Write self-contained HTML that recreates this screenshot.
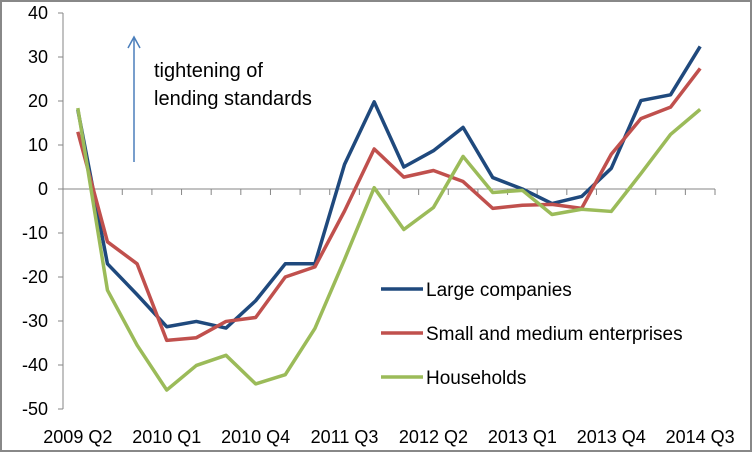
<!DOCTYPE html>
<html><head><meta charset="utf-8"><style>
body{margin:0;background:#fff;}
svg{display:block;font-family:"Liberation Sans",sans-serif;}
</style></head><body>
<svg id="chart" width="752" height="452" viewBox="0 0 752 452">
<rect x="1" y="1" width="750" height="450" fill="#fff" stroke="#888" stroke-width="2"/>
<g id="axes"></g><g id="series"></g>
<g>
<line x1="134" y1="162" x2="134" y2="38" stroke="#4a7ebb" stroke-width="1.5"/>
<polyline points="128,48 134,37 140,48" fill="none" stroke="#4a7ebb" stroke-width="1.5"/>
<text x="154" y="77" font-size="20" fill="#000">tightening of</text>
<text x="154" y="105" font-size="20" fill="#000">lending standards</text>
</g>
<g id="legend"></g>
</svg>
<script>
const categories=["2009 Q2","2009 Q3","2009 Q4","2010 Q1","2010 Q2","2010 Q3","2010 Q4","2011 Q1","2011 Q2","2011 Q3","2011 Q4","2012 Q1","2012 Q2","2012 Q3","2012 Q4","2013 Q1","2013 Q2","2013 Q3","2013 Q4","2014 Q1","2014 Q2","2014 Q3"];
const large=[18,-17,-24,-31.3,-30.1,-31.6,-25.4,-17,-17,5.6,19.8,5,8.7,14,2.6,0,-3.3,-1.7,4.7,20.1,21.4,32.4];
const sme=[13,-12,-17,-34.4,-33.8,-30.1,-29.2,-20,-17.7,-5,9.1,2.7,4.2,1.7,-4.4,-3.7,-3.5,-4.4,7.9,16,18.6,27.4];
const households=[18.4,-23,-35.5,-45.7,-40.1,-37.8,-44.3,-42.2,-31.7,-16,0.3,-9.2,-4.2,7.4,-0.8,-0.3,-5.8,-4.6,-5.1,3.5,12.4,18.1];
const yTicks=[40,30,20,10,0,-10,-20,-30,-40,-50];
const seriesNames=["Large companies","Small and medium enterprises","Households"];
const seriesColors=["#1f497d","#c0504d","#9bbb59"];
const NS="http://www.w3.org/2000/svg";
const x0=63,x1=715,yTop=13,yBot=409;
const step=(x1-x0)/categories.length;
function xScale(i){return x0+step*(i+0.5);}
function yScale(v){return yTop+(40-v)/90*(yBot-yTop);}
function mk(tag,attrs,parent){const e=document.createElementNS(NS,tag);for(const k in attrs)e.setAttribute(k,attrs[k]);parent.appendChild(e);return e;}
const axes=document.getElementById('axes');
const ya=mk('line',{x1:x0,y1:yTop,x2:x0,y2:yBot,stroke:'#868686'},axes);


yTicks.forEach(v=>{
 const y=yScale(v);
 const tk=mk('line',{x1:x0-5,y1:y,x2:x0,y2:y,stroke:'#868686'},axes);
 
 
 const t=mk('text',{x:48,y:y+6,'text-anchor':'end','font-size':18,fill:'#000'},axes);
 t.textContent=v;
 
 
});
const y0=yScale(0);
const xa=mk('line',{x1:x0,y1:y0,x2:x1,y2:y0,stroke:'#868686'},axes);


for(let i=0;i<=categories.length;i++){
 const x=x0+step*i;
 const tk=mk('line',{x1:x,y1:y0,x2:x,y2:y0+6,stroke:'#868686'},axes);
 
 
}
categories.forEach((c,i)=>{
 if(i%3!==0)return;
 const t=mk('text',{x:xScale(i),y:443,'text-anchor':'middle','font-size':18,fill:'#000'},axes);
 t.textContent=c;
 
 
});
const sg=document.getElementById('series');
[large,sme,households].forEach((d,s)=>{
 const p=mk('polyline',{points:d.map((v,i)=>xScale(i)+','+yScale(v)).join(' '),fill:'none',stroke:seriesColors[s],'stroke-width':3.5,'stroke-linejoin':'round'},sg);
 
 
});
const lg=document.getElementById('legend');
const ly=[289,333,377];
seriesNames.forEach((n,s)=>{
 const l=mk('line',{x1:381,y1:ly[s],x2:423,y2:ly[s],stroke:seriesColors[s],'stroke-width':3.5},lg);
 
 
 const t=mk('text',{x:426,y:ly[s]+7,'font-size':19,fill:'#000'},lg);
 t.textContent=n;
 
 
});
</script>
</body></html>
